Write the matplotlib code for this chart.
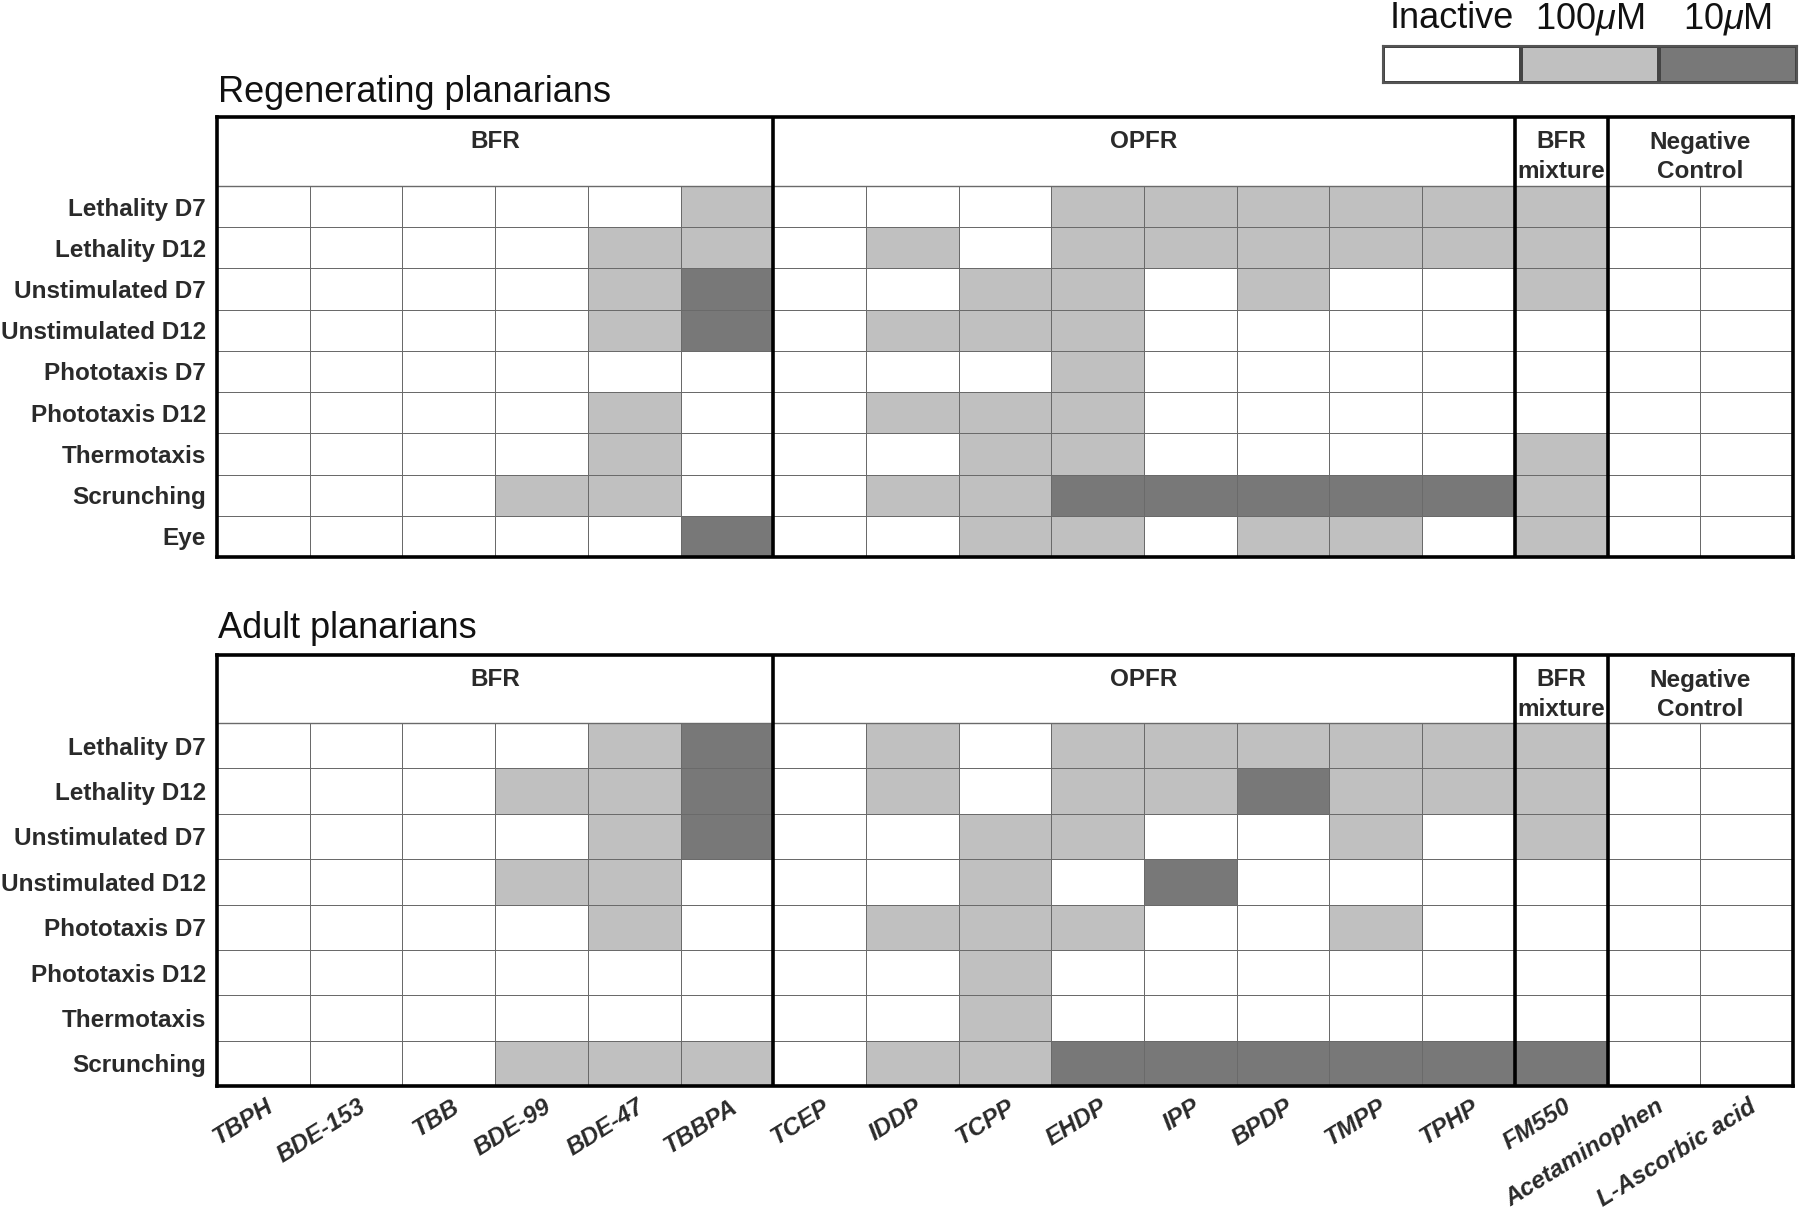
import numpy as np
import matplotlib
matplotlib.use('Agg')
import matplotlib.pyplot as plt
from matplotlib.colors import ListedColormap
import matplotlib.transforms as mtransforms

plt.rcParams['font.family'] = ['Liberation Sans', 'DejaVu Sans']
plt.rcParams['mathtext.fontset'] = 'custom'
plt.rcParams['mathtext.it'] = 'Liberation Sans:italic'
plt.rcParams['mathtext.rm'] = 'Liberation Sans'

# ---------------- data ----------------
compounds = ["TBPH", "BDE-153", "TBB", "BDE-99", "BDE-47", "TBBPA",
             "TCEP", "IDDP", "TCPP", "EHDP", "IPP", "BPDP", "TMPP", "TPHP",
             "FM550", "Acetaminophen", "L-Ascorbic acid"]
group_names = ["BFR", "OPFR", "BFR\nmixture", "Negative\nControl"]
group_starts = [0, 6, 14, 15]
group_ends = [6, 14, 15, 17]

# 0 = inactive, 1 = active at 100 uM, 2 = active at 10 uM
regen_endpoints = ["Lethality D7", "Lethality D12", "Unstimulated D7", "Unstimulated D12",
                   "Phototaxis D7", "Phototaxis D12", "Thermotaxis", "Scrunching", "Eye"]
regen_values = [
    [0, 0, 0, 0, 0, 1, 0, 0, 0, 1, 1, 1, 1, 1, 1, 0, 0],
    [0, 0, 0, 0, 1, 1, 0, 1, 0, 1, 1, 1, 1, 1, 1, 0, 0],
    [0, 0, 0, 0, 1, 2, 0, 0, 1, 1, 0, 1, 0, 0, 1, 0, 0],
    [0, 0, 0, 0, 1, 2, 0, 1, 1, 1, 0, 0, 0, 0, 0, 0, 0],
    [0, 0, 0, 0, 0, 0, 0, 0, 0, 1, 0, 0, 0, 0, 0, 0, 0],
    [0, 0, 0, 0, 1, 0, 0, 1, 1, 1, 0, 0, 0, 0, 0, 0, 0],
    [0, 0, 0, 0, 1, 0, 0, 0, 1, 1, 0, 0, 0, 0, 1, 0, 0],
    [0, 0, 0, 1, 1, 0, 0, 1, 1, 2, 2, 2, 2, 2, 1, 0, 0],
    [0, 0, 0, 0, 0, 2, 0, 0, 1, 1, 0, 1, 1, 0, 1, 0, 0],
]

adult_endpoints = ["Lethality D7", "Lethality D12", "Unstimulated D7", "Unstimulated D12",
                   "Phototaxis D7", "Phototaxis D12", "Thermotaxis", "Scrunching"]
adult_values = [
    [0, 0, 0, 0, 1, 2, 0, 1, 0, 1, 1, 1, 1, 1, 1, 0, 0],
    [0, 0, 0, 1, 1, 2, 0, 1, 0, 1, 1, 2, 1, 1, 1, 0, 0],
    [0, 0, 0, 0, 1, 2, 0, 0, 1, 1, 0, 0, 1, 0, 1, 0, 0],
    [0, 0, 0, 1, 1, 0, 0, 0, 1, 0, 2, 0, 0, 0, 0, 0, 0],
    [0, 0, 0, 0, 1, 0, 0, 1, 1, 1, 0, 0, 1, 0, 0, 0, 0],
    [0, 0, 0, 0, 0, 0, 0, 0, 1, 0, 0, 0, 0, 0, 0, 0, 0],
    [0, 0, 0, 0, 0, 0, 0, 0, 1, 0, 0, 0, 0, 0, 0, 0, 0],
    [0, 0, 0, 1, 1, 1, 0, 1, 1, 2, 2, 2, 2, 2, 2, 0, 0],
]

legend_labels = ["Inactive", r"100$\mu$M", r"10$\mu$M"]
legend_levels = [0, 1, 2]

panel_titles = ["Regenerating planarians", "Adult planarians"]

# ---------------- style ----------------
colors = ['#ffffff', '#c0c0c0', '#787878']
cmap = ListedColormap(colors)
W, H = 1800, 1210
TXT = '#2a2a2a'
LBL_FS = 17.5

fig = plt.figure(figsize=(W / 100, H / 100), dpi=100)


def fx(px):
    return px / W


def fy(py):
    return 1 - py / H


def draw_panel(top_px, bot_px, hdr_px, endpoints, values, show_xlabels):
    n = len(endpoints)
    left_px, right_px = 217, 1793
    ax = fig.add_axes([fx(left_px), fy(bot_px), fx(right_px - left_px), (bot_px - top_px) / H])
    rowpx = (bot_px - top_px - hdr_px) / n
    hdr = hdr_px / rowpx
    data = np.array(values)
    ax.pcolormesh(np.arange(len(compounds) + 1), np.arange(n + 1), data,
                  cmap=cmap, vmin=-0.5, vmax=2.5, edgecolors='#6a6a6a', linewidth=0.7)
    ax.set_xlim(0, len(compounds))
    ax.set_ylim(n, -hdr)
    ax.hlines(0, 0, len(compounds), colors='#6a6a6a', lw=1.0)
    ax.vlines([6, 14, 15], -hdr, n, colors='black', lw=2.6)
    for s in ax.spines.values():
        s.set_linewidth(2.6)
        s.set_color('black')
    ax.set_xticks([])
    ax.set_yticks(np.arange(n) + 0.5)
    ax.set_yticklabels(endpoints, fontweight='bold', fontsize=LBL_FS, color=TXT)
    ax.tick_params(axis='y', length=0, pad=8)
    # group headers
    for name, s, e in zip(group_names, group_starts, group_ends):
        lines = name.split('\n')
        for k, ln in enumerate(lines):
            ypx = 25 if k == 0 else 55
            ax.text((s + e) / 2, -hdr + ypx / rowpx, ln, ha='center', va='center',
                    fontweight='bold', fontsize=LBL_FS, color=TXT)
    if show_xlabels:
        off = mtransforms.ScaledTranslation(0, -9 / 100, fig.dpi_scale_trans)
        for i, name in enumerate(compounds):
            ax.text(i + 0.52, n, name, transform=ax.transData + off, rotation=32,
                    rotation_mode='anchor', ha='right', va='top', style='italic',
                    fontweight='bold', fontsize=LBL_FS, color=TXT)
    return ax


draw_panel(117, 557, 69, regen_endpoints, regen_values, False)
draw_panel(655, 1086, 68, adult_endpoints, adult_values, True)

fig.text(fx(218), fy(92), panel_titles[0], fontsize=26, ha='left', va='center', color='#111111')
fig.text(fx(218), fy(629), panel_titles[1], fontsize=26, ha='left', va='center', color='#111111')

# legend
lax = fig.add_axes([fx(1383), fy(83), fx(1797 - 1383), 37 / H])
lax.pcolormesh(np.arange(len(legend_levels) + 1), [0, 1], np.array([legend_levels]),
               cmap=cmap, vmin=-0.5, vmax=2.5, edgecolors='#444444', linewidth=1.5)
lax.set_xlim(0, len(legend_levels))
lax.set_ylim(0, 1)
lax.set_xticks([])
lax.set_yticks([])
for s in lax.spines.values():
    s.set_linewidth(1.5)
    s.set_color('#555555')
for i, lab in enumerate(legend_labels):
    fig.text(fx(1383) + fx(1797 - 1383) * (i + 0.5) / 3, fy(19), lab, fontsize=26,
             ha='center', va='center', color='#111111')

fig.savefig('out.png', dpi=100)
